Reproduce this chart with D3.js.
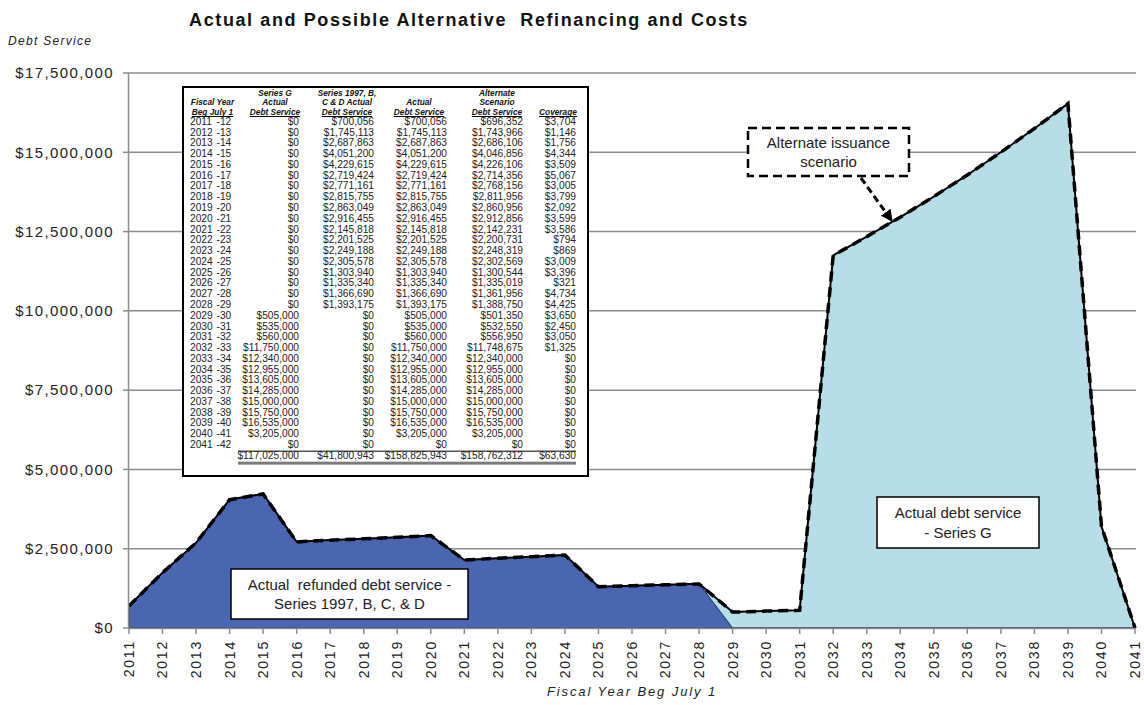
<!DOCTYPE html>
<html>
<head>
<meta charset="utf-8">
<script src="https://cdn.jsdelivr.net/npm/d3@7"></script>
<style>
  body { margin: 0; background: #fff; }
  svg { display: block; font-family: "Liberation Sans", Arial, sans-serif; }
</style>
</head>
<body>
<svg id="chart" width="1144" height="705"></svg>
<script>
// Fiscal years (beginning July 1), one point per year
const years = d3.range(2011, 2042);
const yearLabels = years.map(y => String(y));
const fiscalSuffix = years.map(y => "-" + String((y + 1) % 100).padStart(2, "0"));

// Debt service by fiscal year
const seriesG = [0, 0, 0, 0, 0, 0, 0, 0, 0, 0, 0, 0, 0, 0, 0, 0, 0, 0,
  505000, 535000, 560000, 11750000, 12340000, 12955000, 13605000, 14285000,
  15000000, 15750000, 16535000, 3205000, 0];
const series1997 = [700056, 1745113, 2687863, 4051200, 4229615, 2719424, 2771161,
  2815755, 2863049, 2916455, 2145818, 2201525, 2249188, 2305578, 1303940, 1335340,
  1366690, 1393175, 0, 0, 0, 0, 0, 0, 0, 0, 0, 0, 0, 0, 0];
const alternate = [696352, 1743966, 2686106, 4046856, 4226106, 2714356, 2768156,
  2811956, 2860956, 2912856, 2142231, 2200731, 2248319, 2302569, 1300544, 1335019,
  1361956, 1388750, 501350, 532550, 556950, 11748675, 12340000, 12955000, 13605000,
  14285000, 15000000, 15750000, 16535000, 3205000, 0];
const coverage = [3704, 1146, 1756, 4344, 3509, 5067, 3005, 3799, 2092, 3599, 3586,
  794, 869, 3009, 3396, 321, 4734, 4425, 3650, 2450, 3050, 1325, 0, 0, 0, 0, 0, 0, 0, 0, 0];
const actual = years.map((_, i) => seriesG[i] + series1997[i]);

// Column totals as carried in the schedule (unrounded source amounts)
const totals = [117025000, 41800943, 158825943, 158762312, 63630];

// Y axis ticks
const yTicks = [0, 2500000, 5000000, 7500000, 10000000, 12500000, 15000000, 17500000];

const svg = d3.select("#chart");
const x = d3.scaleLinear().domain([2011, 2041]).range([129, 1135]);
const y = d3.scaleLinear().domain([0, 17500000]).range([628, 73]);
const money = v => "$" + d3.format(",")(Math.round(v));

const C = {
  grid: "#8c8c8c",
  dark: "#4a66b1",
  light: "#b7dee6",
  text: "#222"
};

// Horizontal gridlines
svg.append("g").selectAll("line").data(yTicks.slice(1)).join("line")
  .attr("x1", 128).attr("x2", 1136)
  .attr("y1", d => y(d)).attr("y2", d => y(d))
  .attr("stroke", C.grid).attr("stroke-width", 1.5);

// Stacked areas: Series 1997 at the bottom, Series G on top
const area = d3.area()
  .x((d, i) => x(years[i])).y0(y(0)).y1(d => y(d));
svg.append("path").datum(actual)
  .attr("d", area).attr("fill", C.light);
svg.append("path").datum(series1997)
  .attr("d", area).attr("fill", C.dark)
  .attr("stroke", "#1f2f5e").attr("stroke-width", 1);

// Actual (solid) and alternate scenario (dashed) debt service
const line = d3.line().x((d, i) => x(years[i])).y(d => y(d));
svg.append("path").datum(actual).attr("d", line)
  .attr("fill", "none").attr("stroke", "#000").attr("stroke-width", 2)
  .attr("stroke-linejoin", "round");
svg.append("path").datum(alternate).attr("d", line)
  .attr("fill", "none").attr("stroke", "#000").attr("stroke-width", 3.5)
  .attr("stroke-dasharray", "10,6");

// Axes
const axes = svg.append("g");
axes.append("line").attr("x1", 128.5).attr("x2", 128.5).attr("y1", 73).attr("y2", 628)
  .attr("stroke", C.grid).attr("stroke-width", 1.5);
axes.append("line").attr("x1", 128).attr("x2", 1136).attr("y1", 628.5).attr("y2", 628.5)
  .attr("stroke", C.grid).attr("stroke-width", 1.5);
axes.selectAll(".yt").data(yTicks).join("line")
  .attr("x1", 123).attr("x2", 128).attr("y1", d => y(d)).attr("y2", d => y(d))
  .attr("stroke", C.grid).attr("stroke-width", 1.5);
axes.selectAll(".yl").data(yTicks).join("text")
  .attr("x", 114).attr("y", d => y(d)).attr("dy", "0.35em")
  .attr("text-anchor", "end").attr("font-size", 15).attr("letter-spacing", 1.4)
  .attr("fill", C.text).text(d => money(d));
axes.selectAll(".xt").data(years).join("line")
  .attr("x1", d => x(d)).attr("x2", d => x(d)).attr("y1", 628).attr("y2", 634)
  .attr("stroke", C.grid).attr("stroke-width", 1.5);
axes.selectAll(".xl").data(years).join("text")
  .attr("transform", d => `translate(${x(d)},640) rotate(-90)`)
  .attr("dy", "0.35em").attr("text-anchor", "end")
  .attr("font-size", 14).attr("letter-spacing", 1.8)
  .attr("fill", C.text).text((d, i) => yearLabels[i]);

// Titles
svg.append("text").attr("x", 469).attr("y", 26).attr("text-anchor", "middle")
  .attr("font-size", 18).attr("font-weight", "bold").attr("letter-spacing", 1.6)
  .attr("fill", "#111").text("Actual and Possible Alternative  Refinancing and Costs")
  .style("white-space", "pre");
svg.append("text").attr("x", 8).attr("y", 45)
  .attr("font-size", 12).attr("font-style", "italic").attr("letter-spacing", 1.3)
  .attr("fill", C.text).text("Debt Service");
svg.append("text").attr("x", 632).attr("y", 696).attr("text-anchor", "middle")
  .attr("font-size", 13).attr("font-style", "italic").attr("letter-spacing", 1.9)
  .attr("fill", C.text).text("Fiscal Year Beg July 1");

// Annotation boxes
function noteBox(x0, y0, w, h, lines, dashed) {
  const g = svg.append("g");
  g.append("rect").attr("x", x0).attr("y", y0).attr("width", w).attr("height", h)
    .attr("fill", "#fff").attr("stroke", "#000")
    .attr("stroke-width", dashed ? 2.5 : 1.5)
    .attr("stroke-dasharray", dashed ? "9,5" : null);
  lines.forEach((t, i) => {
    g.append("text").attr("x", x0 + w / 2).attr("y", y0 + h / 2 + (i - (lines.length - 1) / 2) * 19.5)
      .attr("dy", "0.35em").attr("text-anchor", "middle")
      .attr("font-size", 15).attr("fill", C.text).text(t).style("white-space", "pre");
  });
}
noteBox(231, 569, 237, 50, ["Actual  refunded debt service -", "Series 1997, B, C, & D"], false);
noteBox(877, 497, 162, 51, ["Actual debt service", "- Series G"], false);
noteBox(748, 128, 161, 48, ["Alternate issuance", "scenario"], true);

// Arrow from the scenario box to the alternate line
svg.append("defs").append("marker").attr("id", "arrowhead")
  .attr("viewBox", "0 0 10 10").attr("refX", 9).attr("refY", 5)
  .attr("markerWidth", 4).attr("markerHeight", 4).attr("orient", "auto")
  .attr("markerUnits", "strokeWidth")
  .append("path").attr("d", "M0,0L10,5L0,10Z").attr("fill", "#000");
svg.append("line").attr("x1", 861).attr("y1", 178).attr("x2", 892).attr("y2", 221)
  .attr("stroke", "#000").attr("stroke-width", 3).attr("stroke-dasharray", "7,4")
  .attr("marker-end", "url(#arrowhead)");

// Data table
const tbl = svg.append("g");
tbl.append("rect").attr("x", 183).attr("y", 87).attr("width", 405).attr("height", 389)
  .attr("fill", "#fff").attr("stroke", "#000").attr("stroke-width", 2);

const cols = [
  { head: ["", "Fiscal Year", "Beg July 1"], cx: 212.5 },
  { head: ["Series G", "Actual", "Debt Service"], cx: 275, right: 299, values: seriesG },
  { head: ["Series 1997, B,", "C & D Actual", "Debt Service"], cx: 347, right: 374, values: series1997 },
  { head: ["", "Actual", "Debt Service"], cx: 419, right: 447, values: actual },
  { head: ["Alternate", "Scenario", "Debt Service"], cx: 497, right: 523, values: alternate },
  { head: ["", "", "Coverage"], cx: 558, right: 576, values: coverage }
];
const headY = [93, 102.5, 112];
cols.forEach(c => {
  c.head.forEach((t, i) => {
    if (!t) return;
    const el = tbl.append("text").attr("x", c.cx).attr("y", headY[i]).attr("dy", "0.35em")
      .attr("text-anchor", "middle").attr("font-size", 8.3)
      .attr("font-weight", "bold").attr("font-style", "italic")
      .attr("fill", "#111").text(t);
    if (i === 2) {
      const w = el.node().getComputedTextLength();
      tbl.append("line").attr("x1", c.cx - w / 2).attr("x2", c.cx + w / 2)
        .attr("y1", 116.5).attr("y2", 116.5).attr("stroke", "#000").attr("stroke-width", 1);
    }
  });
});

const rowY = i => 121.3 + i * 10.77;
const tfont = 10.2;
years.forEach((yr, i) => {
  tbl.append("text").attr("x", 190).attr("y", rowY(i)).attr("dy", "0.35em")
    .attr("font-size", tfont).attr("fill", C.text).text(yearLabels[i]);
  tbl.append("text").attr("x", 216.5).attr("y", rowY(i)).attr("dy", "0.35em")
    .attr("font-size", tfont).attr("fill", C.text).text(fiscalSuffix[i]);
  cols.slice(1).forEach(c => {
    tbl.append("text").attr("x", c.right).attr("y", rowY(i)).attr("dy", "0.35em")
      .attr("text-anchor", "end").attr("font-size", tfont).attr("fill", C.text)
      .text(money(c.values[i]));
  });
});

// Totals row
const totY = rowY(years.length) + 0.5;
tbl.append("line").attr("x1", 238).attr("x2", 576).attr("y1", totY - 4.5).attr("y2", totY - 4.5)
  .attr("stroke", "#000").attr("stroke-width", 1);
cols.slice(1).forEach((c, k) => {
  tbl.append("text").attr("x", c.right).attr("y", totY).attr("dy", "0.35em")
    .attr("text-anchor", "end").attr("font-size", tfont).attr("fill", C.text)
    .text(money(totals[k]));
});
tbl.append("rect").attr("x", 238).attr("y", totY + 6).attr("width", 338).attr("height", 3)
  .attr("fill", "#7a7a7a");
</script>
</body>
</html>
